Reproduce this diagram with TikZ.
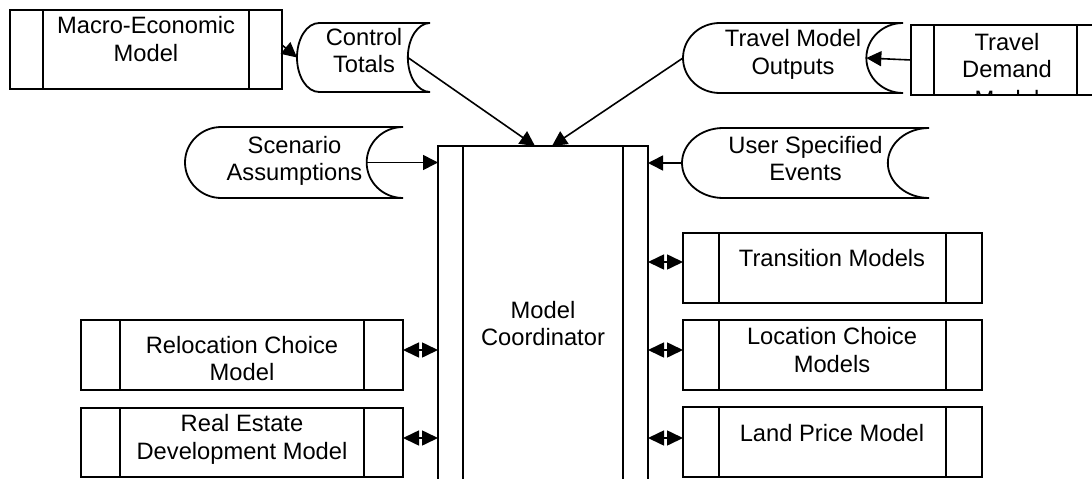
\documentclass[tikz,border=0pt]{standalone}
\usepackage{fontspec}
\setmainfont{Liberation Sans}
\usetikzlibrary{arrows.meta,calc}
\tikzset{
  outline/.style={line width=1.8pt, line join=miter},
  procbox/.style n args={2}{draw, outline, rectangle, inner sep=0pt, outer sep=0pt,
    minimum width=#1pt, minimum height=#2pt,
    path picture={
      \draw[outline] ($(path picture bounding box.north west)!0.12!(path picture bounding box.north east)$)
        -- ($(path picture bounding box.south west)!0.12!(path picture bounding box.south east)$);
      \draw[outline] ($(path picture bounding box.north west)!0.88!(path picture bounding box.north east)$)
        -- ($(path picture bounding box.south west)!0.88!(path picture bounding box.south east)$);
    }},
  lbl/.style={font=\fontsize{23.7}{27.2}\selectfont, align=center, anchor=north, inner sep=0pt,
    execute at begin node=\strut, execute at end node=\strut},
  arr/.style={line width=1.6pt, -{Triangle[length=15pt,width=15pt]}},
  dbl/.style={line width=1.6pt, {Triangle[length=16pt,width=15pt]}-{Triangle[length=16pt,width=15pt]}},
}
% stored-data shape: name, cx, cy, w, h
\newcommand\sdata[5]{%
  \pgfmathsetmacro\sdl{#2-#4/2}\pgfmathsetmacro\sdr{#2+#4/2}%
  \pgfmathsetmacro\sdt{#3-#5/2}\pgfmathsetmacro\sdb{#3+#5/2}%
  \pgfmathsetmacro\sdrad{#4/6}\pgfmathsetmacro\sdh{#5/2}%
  \node[inner sep=0pt, outer sep=0pt, minimum width=#4pt, minimum height=#5pt] (#1) at (#2,#3) {};
  \coordinate (#1-r) at (\sdr-\sdrad,#3);
  \draw[outline] (\sdr,\sdt) -- (\sdl+\sdrad,\sdt)
    arc[start angle=90,end angle=270,x radius=\sdrad pt,y radius=\sdh pt]
    -- (\sdr,\sdb)
    arc[start angle=270,end angle=90,x radius=\sdrad pt,y radius=\sdh pt];
}
\begin{document}
\begin{tikzpicture}[x=1pt,y=-1pt]
\useasboundingbox (0,0) rectangle (1092,479);
\clip (0,0) rectangle (1092,479);
\fill[white] (0,0) rectangle (1092,479);

% process boxes
\node[procbox={272}{79}] (macro) at (146,49.5) {};
\node[procbox={189}{70}] (tdm) at (1005.5,60) {};
\node[procbox={210}{454}] (coord) at (543,373) {};
\node[procbox={322}{70}] (reloc) at (242,355) {};
\node[procbox={322}{69}] (restate) at (242,442.5) {};
\node[procbox={299}{70}] (trans) at (832.5,268) {};
\node[procbox={299}{70}] (loc) at (832.5,355) {};
\node[procbox={299}{70}] (land) at (832.5,442) {};

% stored data shapes
\sdata{ctl}{363.5}{57.5}{133}{69}
\sdata{tmo}{793}{58}{220}{70}
\sdata{scn}{294}{162.5}{218}{71}
\sdata{use}{805.5}{163}{247}{70}

% labels
\node[lbl] (macro-t) at (146,16.5) {Macro-Economic\\Model};
\node[lbl] (ctl-t) at (364,28) {Control\\Totals};
\node[lbl] (tmo-t) at (793,29.5) {Travel Model\\Outputs};
\begin{scope}
  \clip ([shift={(1pt,-1pt)}]tdm.north west) rectangle ([shift={(-1pt,1pt)}]tdm.south east);
  \node[lbl] (tdm-t) at (1007,33) {Travel\\Demand\\[2.5pt]Model};
\end{scope}
\node[lbl] (scn-t) at (294.5,136) {Scenario\\Assumptions};
\node[lbl] (use-t) at (805.5,136) {User Specified\\Events};
\node[lbl] (coord-t) at (543,301) {Model\\Coordinator};
\node[lbl] (reloc-t) at (242,336) {Relocation Choice\\Model};
\node[lbl] (restate-t) at (242,414.5) {Real Estate\\Development Model};
\node[lbl] (trans-t) at (832,247.5) {Transition Models};
\node[lbl] (loc-t) at (832,327.5) {Location Choice\\Models};
\node[lbl] (land-t) at (832,422) {Land Price Model};

% connectors
\draw[arr] ([yshift=4.5pt]macro.east) -- (ctl.west);
\draw[arr] (ctl-r) -- ([xshift=-8pt]coord.north);
\draw[arr] (tmo.west) -- ([xshift=9pt]coord.north);
\draw[arr] (tdm.west) -- (tmo-r);
\draw[arr] (scn-r) -- (scn-r -| coord.west);
\draw[arr] (use.west) -- (use.west -| coord.east);

\draw[dbl] ([yshift=5pt]reloc.east) -- ([yshift=5pt]reloc.east -| coord.west);
\draw[dbl] ([yshift=4.5pt]restate.east) -- ([yshift=4.5pt]restate.east -| coord.west);
\draw[dbl] ([yshift=6pt]trans.west -| coord.east) -- ([yshift=6pt]trans.west);
\draw[dbl] ([yshift=5pt]loc.west -| coord.east) -- ([yshift=5pt]loc.west);
\draw[dbl] ([yshift=4pt]land.west -| coord.east) -- ([yshift=4pt]land.west);
\end{tikzpicture}
\end{document}
